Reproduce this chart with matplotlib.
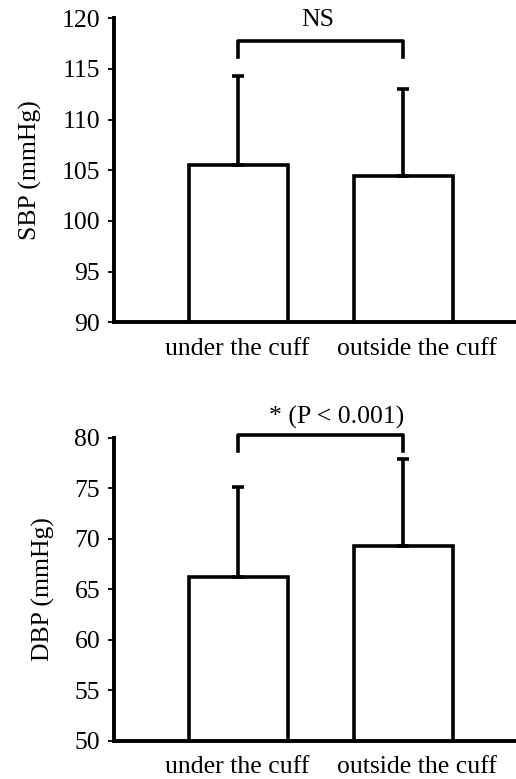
import matplotlib.pyplot as plt
import numpy as np

plt.rcParams['font.family'] = ['Liberation Serif', 'DejaVu Serif']

groups = ['under the cuff', 'outside the cuff']
sbp_mean = [105.5, 104.4]
sbp_sd = [8.8, 8.6]
dbp_mean = [66.25, 69.3]
dbp_sd = [8.85, 8.6]

fig = plt.figure(figsize=(5.16, 7.79), dpi=100)
ax1 = fig.add_axes([0.221, 0.5863, 0.80, 0.3902])
ax2 = fig.add_axes([0.221, 0.0488, 0.80, 0.3893])

FS = 18.5


def panel(ax, means, sds, ylim, ticks, ylabel, sig, sig_x, sig_y, bracket):
    x = np.arange(len(means))
    ax.bar(x, means, width=0.6, color='white', edgecolor='black', linewidth=2.6, zorder=2)
    ax.errorbar(x, means, yerr=[np.zeros(len(sds)), sds], fmt='none', ecolor='black',
                elinewidth=2.6, capsize=4, capthick=2.6, zorder=3)
    ax.set_ylim(*ylim)
    ax.set_xlim(-0.755, 1.75)
    ax.set_yticks(ticks)
    # labels sit a little right of the bars, as in the original
    ax.set_xticks([-0.01, 1.085])
    ax.set_xticklabels(groups, fontsize=FS)
    ax.tick_params(axis='x', length=0, pad=11)
    ax.tick_params(axis='y', labelsize=FS, length=4, width=1.3, pad=6)
    ax.set_ylabel(ylabel, fontsize=FS, labelpad=14)
    for s in ['top', 'right']:
        ax.spines[s].set_visible(False)
    for s in ['left', 'bottom']:
        ax.spines[s].set_linewidth(2.8)
    top, low = bracket
    ax.plot([0, 0, 1, 1], [low, top, top, low], color='black', lw=2.6, clip_on=False)
    ax.text(sig_x, sig_y, sig, ha='center', va='center', fontsize=FS, clip_on=False)


panel(ax1, sbp_mean, sbp_sd, (90, 120), range(90, 121, 5), 'SBP (mmHg)',
      'NS', 0.48, 119.8, (117.75, 116.2))
panel(ax2, dbp_mean, dbp_sd, (50, 80), range(50, 81, 5), 'DBP (mmHg)',
      '* (P < 0.001)', 0.595, 82.0, (80.27, 78.7))

fig.savefig('out.png', dpi=100)
